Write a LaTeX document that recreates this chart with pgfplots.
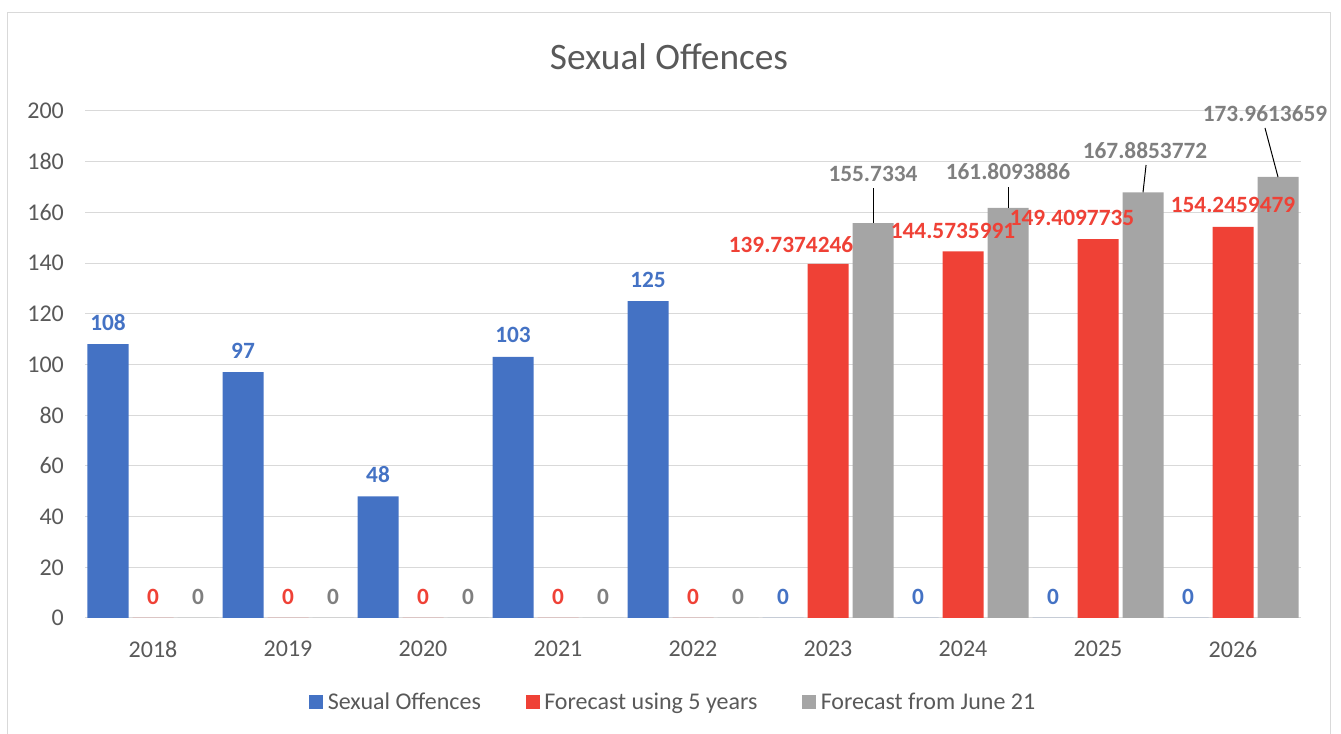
\documentclass[border=0pt]{standalone}
\usepackage{pgfplots}
\pgfplotsset{compat=1.18}
\usepackage{fontspec}
\setmainfont{Carlito}
\definecolor{cblue}{HTML}{4472C4}
\definecolor{cred}{HTML}{EF4136}
\definecolor{cgray}{HTML}{A5A5A5}
\definecolor{cglab}{HTML}{7F7F7F}
\definecolor{ctext}{HTML}{595959}
\definecolor{cgrid}{HTML}{D9D9D9}
\newcommand\lf{\fontsize{17.5pt}{21pt}\selectfont}
\newcommand\tf{\fontsize{18pt}{22pt}\selectfont}

\begin{document}
\begin{tikzpicture}
\useasboundingbox (0,0) rectangle (1005.75pt,550.5pt);
\draw[cgrid, line width=0.75pt] (5.25pt,-5pt) -- (5.25pt,540.75pt) -- (997.5pt,540.75pt) -- (997.5pt,-5pt);
\node[font=\fontsize{28pt}{34pt}\selectfont, text=ctext] at (501.75pt,507.75pt) {Sexual Offences};
\begin{axis}[
  at={(64.125pt,87pt)}, anchor=south west,
  scale only axis, width=911.25pt, height=380.25pt,
  xmin=-0.5, xmax=8.5, ymin=0, ymax=200,
  ytick={0,20,40,60,80,100,120,140,160,180,200},
  xtick={0,1,2,3,4,5,6,7,8},
  xticklabels={2018,2019,2020,2021,2022,2023,2024,2025,2026},
  ybar=3pt, bar width=30.75pt,
  axis line style={draw=none},
  major tick length=0pt,
  ymajorgrids, grid style={cgrid, line width=0.75pt},
  tick label style={font=\tf, text=ctext},
  yticklabel style={anchor=east, inner sep=0pt, xshift=-16pt},
  xticklabel style={anchor=north, inner sep=0pt, yshift=-16.9pt},
  /pgf/number format/assume math mode=true,
  clip=false,
  legend style={at={(0.4840,-0.1657)}, anchor=center, draw=none, fill=none,
    font=\tf, text=ctext, legend columns=3,
    /tikz/every odd column/.append style={column sep=1.5pt},
    /tikz/every even column/.append style={column sep=31.5pt}},
]
\addplot[fill=cblue, draw=none, nodes near coords, point meta=explicit symbolic,
  visualization depends on={value \thisrow{dx}\as\dx},
  visualization depends on={value \thisrow{dy}\as\dy},
  nodes near coords style={font=\bfseries\lf, text=cblue, anchor=center, inner sep=0pt, xshift=\dx*0.75pt, yshift=\dy*0.75pt},
  legend image code/.code={\fill[cblue] (0pt,-5.25pt) rectangle (10.5pt,5.25pt);}
] table[x=x, y=y, meta=lab] {
x y lab dx dy
0 108 108 0 21.5
1 97 97 0 21.5
2 48 48 0 21.5
3 103 103 0 21.5
4 125 125 0 21.5
5 0 0 0 21.5
6 0 0 0 21.5
7 0 0 0 21.5
8 0 0 0 21.5
};
\addlegendentry{Sexual Offences}
\addplot[fill=cred, draw=none, nodes near coords, point meta=explicit symbolic,
  visualization depends on={value \thisrow{dx}\as\dx},
  visualization depends on={value \thisrow{dy}\as\dy},
  nodes near coords style={font=\bfseries\lf, text=cred, anchor=center, inner sep=0pt, xshift=\dx*0.75pt, yshift=\dy*0.75pt},
  legend image code/.code={\fill[cred] (0pt,-5.25pt) rectangle (10.5pt,5.25pt);}
] table[x=x, y=y, meta=lab] {
x y lab dx dy
0 0 0 0 21.5
1 0 0 0 21.5
2 0 0 0 21.5
3 0 0 0 21.5
4 0 0 0 21.5
5 139.7374246 139.7374246 -37 19
6 144.5735991 144.5735991 -10 21
7 149.4097735 149.4097735 -26 21
8 154.2459479 154.2459479 0 22
};
\addlegendentry{Forecast using 5 years}
\addplot[fill=cgray, draw=none, nodes near coords, point meta=explicit symbolic,
  visualization depends on={value \thisrow{dx}\as\dx},
  visualization depends on={value \thisrow{dy}\as\dy},
  nodes near coords style={font=\bfseries\lf, text=cglab, anchor=center, inner sep=0pt, xshift=\dx*0.75pt, yshift=\dy*0.75pt},
  legend image code/.code={\fill[cgray] (0pt,-5.25pt) rectangle (10.5pt,5.25pt);}
] table[x=x, y=y, meta=lab] {
x y lab dx dy
0 0 0 0 21.5
1 0 0 0 21.5
2 0 0 0 21.5
3 0 0 0 21.5
4 0 0 0 21.5
5 155.7334 155.7334 0 49
6 161.8093886 161.8093886 0 36
7 167.8853772 167.8853772 2 42
8 173.9613659 173.9613659 -13 63
};
\addlegendentry{Forecast from June 21}
\draw[black, line width=0.75pt] (axis cs:5.3333,169.6) -- (axis cs:5.3333,155.7334);
\draw[black, line width=0.75pt] (axis cs:6.3333,170) -- (axis cs:6.3333,161.8093886);
\draw[black, line width=0.75pt] (axis cs:7.356,178.7) -- (axis cs:7.3333,167.8853772);
\draw[black, line width=0.75pt] (axis cs:8.237,193.3) -- (axis cs:8.3333,173.9613659);
\end{axis}
\end{tikzpicture}
\end{document}
